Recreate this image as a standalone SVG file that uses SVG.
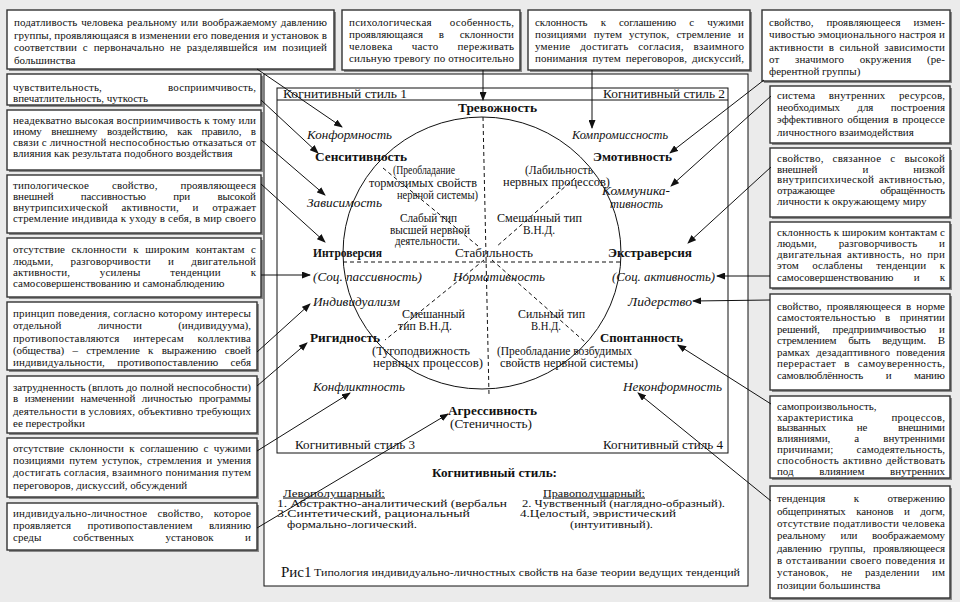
<svg xmlns="http://www.w3.org/2000/svg" width="960" height="602" viewBox="0 0 960 602">
<style>
.t{font-family:"Liberation Serif","Times New Roman",serif;font-size:11px;fill:#111}
.box{fill:#fff;stroke:#333;stroke-width:1.4}
.sh{fill:#8a8a8a}
.fr{fill:none;stroke:#111;stroke-width:1}
.c{font-family:"Liberation Serif","Times New Roman",serif;font-size:12px;fill:#111}
.b{font-weight:bold;font-size:13px}
.i{font-style:italic;font-size:13px}
.s{font-size:11.5px}
.lg{font-size:10.5px}
.dash{fill:none;stroke:#111;stroke-width:1;stroke-dasharray:4 3}
.ar{fill:none;stroke:#111;stroke-width:1;marker-end:url(#ah)}
</style>
<defs>
<marker id="ah" markerUnits="userSpaceOnUse" markerWidth="9" markerHeight="7" refX="8" refY="3.5" orient="auto">
<path d="M0,0 L9,3.5 L0,7 Z" fill="#111"/>
</marker>
</defs>
<rect x="0" y="0" width="960" height="602" fill="#ebebeb"/>

<g id="frame">
<rect x="264" y="74" width="484" height="512" fill="#fff" stroke="#111" stroke-width="1"/>
<rect class="fr" x="277" y="88" width="451" height="365"/>
<line x1="277" y1="100" x2="728" y2="100" stroke="#111" stroke-width="1"/>
<ellipse cx="482" cy="253" rx="139" ry="136" fill="none" stroke="#111" stroke-width="1"/>
<line class="dash" x1="483" y1="117" x2="489" y2="395"/>
<line class="dash" x1="343" y1="262" x2="621" y2="262"/>
<line class="dash" x1="383" y1="168" x2="478" y2="246"/>
<line class="dash" x1="575" y1="178" x2="496" y2="247"/>
<line class="dash" x1="484" y1="260" x2="385" y2="340"/>
<line class="dash" x1="492" y1="260" x2="585" y2="342"/>
<text class="c" x="283" y="97.5" textLength="124" lengthAdjust="spacingAndGlyphs">Когнитивный стиль  1</text>
<text class="c" x="603" y="97.5" textLength="122" lengthAdjust="spacingAndGlyphs">Когнитивный стиль  2</text>
<text class="c" x="295" y="449" textLength="120" lengthAdjust="spacingAndGlyphs">Когнитивный стиль 3</text>
<text class="c" x="603" y="449" textLength="120" lengthAdjust="spacingAndGlyphs">Когнитивный стиль 4</text>
</g>

<g id="n-trevozhnost"><text class="c b" x="458" y="112" textLength="79" lengthAdjust="spacingAndGlyphs">Тревожность</text></g>
<g id="n-konformnost"><text class="c i" x="307" y="139" textLength="85" lengthAdjust="spacingAndGlyphs">Конформность</text></g>
<g id="n-kompromiss"><text class="c i" x="572" y="139" textLength="96" lengthAdjust="spacingAndGlyphs">Компромиссность</text></g>
<g id="n-sensitiv"><text class="c b" x="315" y="161" textLength="92" lengthAdjust="spacingAndGlyphs">Сенситивность</text></g>
<g id="n-emotiv"><text class="c b" x="593" y="161" textLength="79" lengthAdjust="spacingAndGlyphs">Эмотивность</text></g>
<g id="n-tormoz">
<text class="c s" x="393" y="174" textLength="62" lengthAdjust="spacingAndGlyphs">(Преобладание</text>
<text class="c s" x="369" y="186.5" textLength="108" lengthAdjust="spacingAndGlyphs">тормозимых  свойств</text>
<text class="c s" x="397" y="199" textLength="81" lengthAdjust="spacingAndGlyphs">нервной  системы)</text>
</g>
<g id="n-labil">
<text class="c s" x="525" y="174" textLength="68" lengthAdjust="spacingAndGlyphs">(Лабильность</text>
<text class="c s" x="503" y="186" textLength="107" lengthAdjust="spacingAndGlyphs">нервных процессов)</text>
</g>
<g id="n-kommunik">
<text class="c i" x="602" y="195" textLength="68" lengthAdjust="spacingAndGlyphs">Коммуника-</text>
<text class="c i" x="610" y="207.5" textLength="53" lengthAdjust="spacingAndGlyphs">тивность</text>
</g>
<g id="n-zavisim"><text class="c i" x="307" y="207" textLength="75" lengthAdjust="spacingAndGlyphs">Зависимость</text></g>
<g id="n-slaby">
<text class="c s" x="400" y="222" textLength="57" lengthAdjust="spacingAndGlyphs">Слабый тип</text>
<text class="c s" x="390" y="233.5" textLength="80" lengthAdjust="spacingAndGlyphs">высшей нервной</text>
<text class="c s" x="395" y="245" textLength="65" lengthAdjust="spacingAndGlyphs">деятельности.</text>
</g>
<g id="n-smesh1">
<text class="c s" x="497" y="222" textLength="85" lengthAdjust="spacingAndGlyphs">Смешанный тип</text>
<text class="c s" x="523" y="233.5" textLength="32" lengthAdjust="spacingAndGlyphs">В.Н.Д.</text>
</g>
<g id="n-introv"><text class="c b" x="313" y="257" textLength="69" lengthAdjust="spacingAndGlyphs">Интроверсия</text></g>
<g id="n-stabil"><text class="c" x="455" y="257" textLength="78" lengthAdjust="spacingAndGlyphs">Стабильность</text></g>
<g id="n-extrav"><text class="c b" x="608" y="257" textLength="84" lengthAdjust="spacingAndGlyphs">Экстраверсия</text></g>
<g id="n-passiv"><text class="c i" x="313" y="281" textLength="109" lengthAdjust="spacingAndGlyphs">(Соц. пассивность)</text></g>
<g id="n-normativ"><text class="c i" x="453" y="281" textLength="92" lengthAdjust="spacingAndGlyphs">Нормативность</text></g>
<g id="n-aktiv"><text class="c i" x="612" y="281" textLength="103" lengthAdjust="spacingAndGlyphs">(Соц. активность)</text></g>
<g id="n-individ"><text class="c i" x="313" y="306" textLength="87" lengthAdjust="spacingAndGlyphs">Индивидуализм</text></g>
<g id="n-lider"><text class="c i" x="628" y="306" textLength="64" lengthAdjust="spacingAndGlyphs">Лидерство</text></g>
<g id="n-smesh2">
<text class="c s" x="402" y="318" textLength="63" lengthAdjust="spacingAndGlyphs">Смешанный</text>
<text class="c s" x="398" y="330" textLength="54" lengthAdjust="spacingAndGlyphs">тип В.Н.Д.</text>
</g>
<g id="n-silny">
<text class="c s" x="518" y="318" textLength="67" lengthAdjust="spacingAndGlyphs">Сильный тип</text>
<text class="c s" x="531" y="330" textLength="30" lengthAdjust="spacingAndGlyphs">В.Н.Д.</text>
</g>
<g id="n-rigid"><text class="c b" x="310" y="342" textLength="70" lengthAdjust="spacingAndGlyphs">Ригидность</text></g>
<g id="n-spontan"><text class="c b" x="600" y="342" textLength="83" lengthAdjust="spacingAndGlyphs">Спонтанность</text></g>
<g id="n-tugo">
<text class="c s" x="372" y="355" textLength="98" lengthAdjust="spacingAndGlyphs">(Тугоподвижность</text>
<text class="c s" x="373" y="366.5" textLength="110" lengthAdjust="spacingAndGlyphs">нервных   процессов)</text>
</g>
<g id="n-vozbud">
<text class="c s" x="497" y="355" textLength="135" lengthAdjust="spacingAndGlyphs">(Преобладание возбудимых</text>
<text class="c s" x="500" y="366.5" textLength="138" lengthAdjust="spacingAndGlyphs">свойств нервной  системы)</text>
</g>
<g id="n-konflikt"><text class="c i" x="313" y="391" textLength="92" lengthAdjust="spacingAndGlyphs">Конфликтность</text></g>
<g id="n-nekonf"><text class="c i" x="623" y="391" textLength="99" lengthAdjust="spacingAndGlyphs">Неконформность</text></g>
<g id="n-agress">
<text class="c b" x="448" y="415" textLength="89" lengthAdjust="spacingAndGlyphs">Агрессивность</text>
<text class="c" x="450" y="427.5" textLength="82" lengthAdjust="spacingAndGlyphs">(Стеничность)</text>
</g>

<g id="legend">
<text class="c" x="432" y="477" font-weight="bold" textLength="125" lengthAdjust="spacingAndGlyphs">Когнитивный стиль:</text>
<text class="c lg" x="283" y="496.5" text-decoration="underline" textLength="102" lengthAdjust="spacingAndGlyphs">Левополушарный:</text>
<text class="c lg" x="543" y="496.5" text-decoration="underline" textLength="102" lengthAdjust="spacingAndGlyphs">Правополушарный:</text>
<text class="c lg" x="277" y="507" textLength="230" lengthAdjust="spacingAndGlyphs">1. Абстрактно-аналитический (вербальн</text>
<text class="c lg" x="522" y="507" textLength="203" lengthAdjust="spacingAndGlyphs">2. Чувственный (наглядно-образный).</text>
<text class="c lg" x="277" y="517.3" textLength="193" lengthAdjust="spacingAndGlyphs">3.Синтетический,  рациональный</text>
<text class="c lg" x="520" y="517.3" textLength="156" lengthAdjust="spacingAndGlyphs">4.Целостый, эвристический</text>
<text class="c lg" x="287" y="527.5" textLength="130" lengthAdjust="spacingAndGlyphs">формально-логический.</text>
<text class="c lg" x="570" y="527.5" textLength="83" lengthAdjust="spacingAndGlyphs">(интуитивный).</text>
<text class="c" x="281" y="577" style="font-size:15px;font-weight:normal">Рис1</text>
<text class="c" x="314" y="576" style="font-size:10px" textLength="426" lengthAdjust="spacingAndGlyphs">Типология индивидуально-личностных свойств на базе теории ведущих тенденций</text>
</g>

<g id="box-A">
<rect class="sh" x="9" y="12" width="327" height="59"/><rect class="box" x="7" y="10" width="327" height="59"/>
<text class="t" x="14" y="26" textLength="313" lengthAdjust="spacing" style="word-spacing:1px">податливость человека реальному или воображаемому давлению</text>
<text class="t" x="14" y="38.5" textLength="313" lengthAdjust="spacing">группы, проявляющаяся в изменении его поведения и установок в</text>
<text class="t" x="14" y="51" textLength="313" lengthAdjust="spacing" style="word-spacing:3px">соответствии с первоначально не разделявшейся им позицией</text>
<text class="t" x="14" y="63.5">большинства</text>
</g>
<g id="box-B">
<rect class="sh" x="344" y="12" width="178" height="60"/><rect class="box" x="342" y="10" width="178" height="60"/>
<text class="t" x="349" y="25.5" textLength="165" lengthAdjust="spacing" style="word-spacing:15px">психологическая особенность,</text>
<text class="t" x="349" y="37.5" textLength="165" lengthAdjust="spacing" style="word-spacing:13px">проявляющаяся в склонности</text>
<text class="t" x="349" y="49.5" textLength="165" lengthAdjust="spacing" style="word-spacing:16px">человека часто переживать</text>
<text class="t" x="349" y="61.5" textLength="165" lengthAdjust="spacing">сильную тревогу по относительно</text>
</g>
<g id="box-C">
<rect class="sh" x="530" y="12" width="222" height="60"/><rect class="box" x="528" y="10" width="222" height="60"/>
<text class="t" x="535" y="25.5" textLength="209" lengthAdjust="spacing" style="word-spacing:10.5px">склонность к соглашению с чужими</text>
<text class="t" x="535" y="37.5" textLength="209" lengthAdjust="spacing" style="word-spacing:4.4px">позициями путем уступок, стремление и</text>
<text class="t" x="535" y="49.5" textLength="209" lengthAdjust="spacing" style="word-spacing:6.7px">умение достигать согласия, взаимного</text>
<text class="t" x="535" y="61.5" textLength="209" lengthAdjust="spacing" style="word-spacing:2.2px">понимания путем переговоров, дискуссий,</text>
</g>
<g id="box-D">
<rect class="sh" x="764" y="12" width="188" height="71"/><rect class="box" x="762" y="10" width="188" height="71"/>
<text class="t" x="769" y="25.5" textLength="176" lengthAdjust="spacing" style="word-spacing:10px">свойство, проявляющееся измен-</text>
<text class="t" x="769" y="38" textLength="176" lengthAdjust="spacing">чивостью эмоционального настроя и</text>
<text class="t" x="769" y="50.5" textLength="176" lengthAdjust="spacing" style="word-spacing:2.3px">активности в сильной зависимости</text>
<text class="t" x="769" y="62.5" textLength="176" lengthAdjust="spacing" style="word-spacing:12.7px">от значимого окружения (ре-</text>
<text class="t" x="769" y="75">ферентной группы)</text>
</g>

<g id="box-L1">
<rect class="sh" x="9" y="76" width="254" height="31"/><rect class="box" x="7" y="74" width="254" height="31"/>
<text class="t" x="13" y="90.5" textLength="243" lengthAdjust="spacing" style="word-spacing:63px">чувствительность, восприимчивость,</text>
<text class="t" x="13" y="102">впечатлительность, чуткость</text>
</g>
<g id="box-L2">
<rect class="sh" x="9" y="112" width="254" height="60"/><rect class="box" x="7" y="110" width="254" height="60"/>
<text class="t" x="13" y="123.5" textLength="243" lengthAdjust="spacing">неадекватно высокая восприимчивость к тому или</text>
<text class="t" x="13" y="134.8" textLength="243" lengthAdjust="spacing" style="word-spacing:7px">иному внешнему воздействию, как правило, в</text>
<text class="t" x="13" y="146" textLength="243" lengthAdjust="spacing">связи с личностной неспособностью отказаться от</text>
<text class="t" x="13" y="157.3">влияния как результата подобного воздействия</text>
</g>
<g id="box-L3">
<rect class="sh" x="9" y="177" width="254" height="58"/><rect class="box" x="7" y="175" width="254" height="58"/>
<text class="t" x="13" y="189" textLength="243" lengthAdjust="spacing" style="word-spacing:20px">типологическое свойство, проявляющееся</text>
<text class="t" x="13" y="200" textLength="243" lengthAdjust="spacing" style="word-spacing:24.6px">внешней пассивностью при высокой</text>
<text class="t" x="13" y="211" textLength="243" lengthAdjust="spacing" style="word-spacing:10.7px">внутрипсихической активности, и отражает</text>
<text class="t" x="13" y="222" textLength="243" lengthAdjust="spacing">стремление индивида к уходу в себя, в мир своего</text>
</g>
<g id="box-L4">
<rect class="sh" x="9" y="240" width="254" height="59"/><rect class="box" x="7" y="238" width="254" height="59"/>
<text class="t" x="13" y="253" textLength="243" lengthAdjust="spacing" style="word-spacing:3.6px">отсутствие склонности к широким контактам с</text>
<text class="t" x="13" y="264.5" textLength="243" lengthAdjust="spacing" style="word-spacing:14.3px">людьми, разговорчивости и двигательной</text>
<text class="t" x="13" y="275.5" textLength="243" lengthAdjust="spacing" style="word-spacing:27px">активности, усилены тенденции к</text>
<text class="t" x="13" y="286.5">самосовершенствованию и самонаблюдению</text>
</g>
<g id="box-L5">
<rect class="sh" x="9" y="304" width="250" height="68"/><rect class="box" x="7" y="302" width="250" height="68"/>
<text class="t" x="13" y="317" textLength="238" lengthAdjust="spacing">принцип поведения, согласно которому интересы</text>
<text class="t" x="13" y="329" textLength="238" lengthAdjust="spacing" style="word-spacing:33.5px">отдельной личности (индивидуума),</text>
<text class="t" x="13" y="341.5" textLength="238" lengthAdjust="spacing" style="word-spacing:10.7px">противопоставляются интересам коллектива</text>
<text class="t" x="13" y="354" textLength="238" lengthAdjust="spacing" style="word-spacing:5.6px">(общества) – стремление к выражению своей</text>
<text class="t" x="13" y="366" textLength="238" lengthAdjust="spacing" style="word-spacing:9.5px">индивидуальности, противопоставлению себя</text>
</g>
<g id="box-L6">
<rect class="sh" x="9" y="378" width="250" height="57"/><rect class="box" x="7" y="376" width="250" height="57"/>
<text class="t" x="13" y="390.5" textLength="238" lengthAdjust="spacing">затрудненность (вплоть до полной неспособности)</text>
<text class="t" x="13" y="402" textLength="238" lengthAdjust="spacing" style="word-spacing:4px">в изменении намеченной личностью программы</text>
<text class="t" x="13" y="414.5" textLength="238" lengthAdjust="spacing">деятельности в условиях, объективно требующих</text>
<text class="t" x="13" y="427">ее перестройки</text>
</g>
<g id="box-L7">
<rect class="sh" x="9" y="440" width="250" height="59"/><rect class="box" x="7" y="438" width="250" height="59"/>
<text class="t" x="13" y="452" textLength="238" lengthAdjust="spacing" style="word-spacing:2.6px">отсутствие склонности к соглашению с чужими</text>
<text class="t" x="13" y="464" textLength="238" lengthAdjust="spacing" style="word-spacing:2px">позициями путем уступок, стремления и умения</text>
<text class="t" x="13" y="476" textLength="238" lengthAdjust="spacing">достигать согласия, взаимного понимания путем</text>
<text class="t" x="13" y="488.5">переговоров, дискуссий, обсуждений</text>
</g>
<g id="box-L8">
<rect class="sh" x="9" y="505" width="250" height="47"/><rect class="box" x="7" y="503" width="250" height="47"/>
<text class="t" x="13" y="516.5" textLength="238" lengthAdjust="spacing" style="word-spacing:7.5px">индивидуально-личностное свойство, которое</text>
<text class="t" x="13" y="529" textLength="238" lengthAdjust="spacing" style="word-spacing:13.5px">проявляется противопоставлением влиянию</text>
<text class="t" x="13" y="540.5" textLength="238" lengthAdjust="spacing" style="word-spacing:28.6px">среды собственных установок и</text>
</g>

<g id="box-R1">
<rect class="sh" x="772" y="88" width="180" height="57"/><rect class="box" x="770" y="86" width="180" height="57"/>
<text class="t" x="777" y="99" textLength="168" lengthAdjust="spacing" style="word-spacing:10.5px">система внутренних ресурсов,</text>
<text class="t" x="777" y="110.5" textLength="168" lengthAdjust="spacing" style="word-spacing:14.5px">необходимых для построения</text>
<text class="t" x="777" y="123" textLength="168" lengthAdjust="spacing" style="word-spacing:1.3px">эффективного общения в процессе</text>
<text class="t" x="777" y="135.5">личностного взаимодействия</text>
</g>
<g id="box-R2">
<rect class="sh" x="772" y="150" width="180" height="69"/><rect class="box" x="770" y="148" width="180" height="69"/>
<text class="t" x="777" y="162" textLength="168" lengthAdjust="spacing" style="word-spacing:6px">свойство, связанное с высокой</text>
<text class="t" x="777" y="172.7" textLength="168" lengthAdjust="spacing" style="word-spacing:42.5px">внешней и низкой</text>
<text class="t" x="777" y="183.4" textLength="168" lengthAdjust="spacing" style="word-spacing:1.5px">внутрипсихической активностью,</text>
<text class="t" x="777" y="194.1" textLength="168" lengthAdjust="spacing" style="word-spacing:43px">отражающее обращённость</text>
<text class="t" x="777" y="204.8">личности к окружающему миру</text>
</g>
<g id="box-R3">
<rect class="sh" x="772" y="224" width="180" height="66"/><rect class="box" x="770" y="222" width="180" height="66"/>
<text class="t" x="777" y="235.5" textLength="168" lengthAdjust="spacing">склонность к широким контактам с</text>
<text class="t" x="777" y="247" textLength="168" lengthAdjust="spacing" style="word-spacing:19px">людьми, разговорчивость и</text>
<text class="t" x="777" y="258" textLength="168" lengthAdjust="spacing" style="word-spacing:2.3px">двигательная активность, но при</text>
<text class="t" x="777" y="269" textLength="168" lengthAdjust="spacing" style="word-spacing:10.7px">этом ослаблены тенденции к</text>
<text class="t" x="777" y="280.5" textLength="168" lengthAdjust="spacing" style="word-spacing:17.5px">самосовершенствованию и к</text>
</g>
<g id="box-R4">
<rect class="sh" x="772" y="296" width="180" height="96"/><rect class="box" x="770" y="294" width="180" height="96"/>
<text class="t" x="777" y="309.5" textLength="168" lengthAdjust="spacing" style="word-spacing:2.3px">свойство, проявляющееся в норме</text>
<text class="t" x="777" y="321" textLength="168" lengthAdjust="spacing" style="word-spacing:6.5px">самостоятельностью в принятии</text>
<text class="t" x="777" y="332.5" textLength="168" lengthAdjust="spacing" style="word-spacing:10.5px">решений, предприимчивостью и</text>
<text class="t" x="777" y="344" textLength="168" lengthAdjust="spacing" style="word-spacing:9.3px">стремлением быть ведущим. В</text>
<text class="t" x="777" y="355.5" textLength="168" lengthAdjust="spacing" style="word-spacing:3.5px">рамках дезадаптивного поведения</text>
<text class="t" x="777" y="367" textLength="168" lengthAdjust="spacing" style="word-spacing:5px">перерастает в самоуверенность,</text>
<text class="t" x="777" y="378.5" textLength="168" lengthAdjust="spacing" style="word-spacing:20px">самовлюблённость и манию</text>
</g>
<g id="box-R5">
<rect class="sh" x="772" y="398" width="180" height="82"/><rect class="box" x="770" y="396" width="180" height="82"/>
<text class="t" x="777" y="409.5">самопроизвольность,</text>
<text class="t" x="777" y="420.5" textLength="168" lengthAdjust="spacing" style="word-spacing:35px">характеристика процессов,</text>
<text class="t" x="777" y="431" textLength="168" lengthAdjust="spacing" style="word-spacing:28.5px">вызванных не внешними</text>
<text class="t" x="777" y="442" textLength="168" lengthAdjust="spacing" style="word-spacing:21.5px">влияниями, а внутренними</text>
<text class="t" x="777" y="452.5" textLength="168" lengthAdjust="spacing" style="word-spacing:20.5px">причинами; самодеятельность,</text>
<text class="t" x="777" y="463.5" textLength="168" lengthAdjust="spacing" style="word-spacing:0.7px">способность активно действовать</text>
<text class="t" x="777" y="474.5" textLength="168" lengthAdjust="spacing" style="word-spacing:23px">под влиянием внутренних</text>
</g>
<g id="box-R6">
<rect class="sh" x="772" y="488" width="180" height="112"/><rect class="box" x="770" y="486" width="180" height="112"/>
<text class="t" x="777" y="502" textLength="168" lengthAdjust="spacing" style="word-spacing:25.7px">тенденция к отвержению</text>
<text class="t" x="777" y="514.5" textLength="168" lengthAdjust="spacing" style="word-spacing:8px">общепринятых канонов и догм,</text>
<text class="t" x="777" y="527" textLength="168" lengthAdjust="spacing">отсутствие податливости человека</text>
<text class="t" x="777" y="539" textLength="168" lengthAdjust="spacing" style="word-spacing:12px">реальному или воображаемому</text>
<text class="t" x="777" y="551.5" textLength="168" lengthAdjust="spacing" style="word-spacing:5px">давлению группы, проявляющееся</text>
<text class="t" x="777" y="564" textLength="168" lengthAdjust="spacing" style="word-spacing:0.5px">в отстаивании своего поведения и</text>
<text class="t" x="777" y="576" textLength="168" lengthAdjust="spacing" style="word-spacing:9.7px">установок, не разделении им</text>
<text class="t" x="777" y="588.5">позиции большинства</text>
</g>

<g id="connectors">
<line class="ar" x1="257" y1="69" x2="342" y2="127"/>
<line class="ar" x1="261" y1="100" x2="318" y2="153"/>
<line class="ar" x1="261" y1="140" x2="325" y2="195"/>
<line class="ar" x1="261" y1="184" x2="325" y2="242"/>
<line class="ar" x1="261" y1="275" x2="310" y2="275"/>
<line class="ar" x1="257" y1="352" x2="310" y2="304"/>
<line class="ar" x1="257" y1="386" x2="307" y2="343"/>
<line class="ar" x1="257" y1="451" x2="350" y2="393"/>
<line class="ar" x1="257" y1="528" x2="448" y2="414"/>
<line class="ar" x1="483" y1="70" x2="483" y2="100"/>
<line class="ar" x1="592" y1="70" x2="592" y2="128"/>
<line class="ar" x1="764" y1="80" x2="670" y2="153"/>
<line class="ar" x1="771" y1="96" x2="671" y2="186"/>
<line class="ar" x1="771" y1="167" x2="688" y2="243"/>
<line class="ar" x1="770" y1="276" x2="717" y2="276"/>
<line class="ar" x1="770" y1="300" x2="693" y2="301"/>
<line class="ar" x1="771" y1="404" x2="678" y2="345"/>
<line class="ar" x1="771" y1="501" x2="638" y2="393"/>
</g>
</svg>
